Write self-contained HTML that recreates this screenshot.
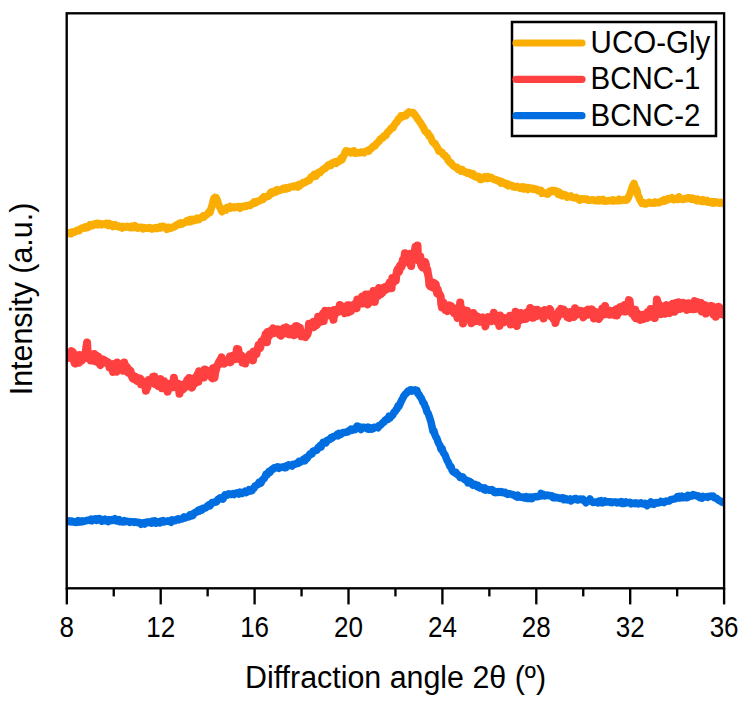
<!DOCTYPE html>
<html><head><meta charset="utf-8"><style>
html,body{margin:0;padding:0;background:#fff;}
svg{display:block;}
text{font-family:"Liberation Sans",sans-serif;fill:#000;}
</style></head><body>
<svg width="745" height="701" viewBox="0 0 745 701">
<defs><clipPath id="c"><rect x="67" y="13" width="657" height="575"/></clipPath></defs>
<g clip-path="url(#c)" fill="none" stroke-linejoin="round" stroke-linecap="round">
<path d="M64.0,234.0 L65.0,234.2 L66.0,233.8 L67.0,233.4 L68.0,233.4 L69.0,232.7 L70.0,233.1 L71.0,233.7 L72.0,232.1 L73.0,231.7 L74.0,232.2 L75.0,231.8 L76.0,231.3 L77.0,230.3 L78.0,230.6 L79.0,230.8 L80.0,229.1 L81.0,229.3 L82.0,228.0 L83.0,228.0 L84.0,227.3 L85.0,228.1 L86.0,227.0 L87.0,227.7 L88.0,227.3 L89.0,226.7 L90.0,224.7 L91.0,225.8 L92.0,225.8 L93.0,225.5 L94.0,224.0 L95.0,224.4 L96.0,223.7 L97.0,223.4 L98.0,224.8 L99.0,223.5 L100.0,224.1 L101.0,224.8 L102.0,223.8 L103.0,224.2 L104.0,224.3 L105.0,224.4 L106.0,223.5 L107.0,224.4 L108.0,225.4 L109.0,223.4 L110.0,225.1 L111.0,224.8 L112.0,224.5 L113.0,226.5 L114.0,225.9 L115.0,224.7 L116.0,225.8 L117.0,226.4 L118.0,226.0 L119.0,226.9 L120.0,226.5 L121.0,227.3 L122.0,228.0 L123.0,226.5 L124.0,227.1 L125.0,226.7 L126.0,227.1 L127.0,226.2 L128.0,226.6 L129.0,226.9 L130.0,227.6 L131.0,227.8 L132.0,226.1 L133.0,226.4 L134.0,227.5 L135.0,225.6 L136.0,226.8 L137.0,227.1 L138.0,228.2 L139.0,227.9 L140.0,227.3 L141.0,227.3 L142.0,227.5 L143.0,228.9 L144.0,227.6 L145.0,227.8 L146.0,228.3 L147.0,228.1 L148.0,228.2 L149.0,227.6 L150.0,228.5 L151.0,228.1 L152.0,229.1 L153.0,228.7 L154.0,228.1 L155.0,228.5 L156.0,227.7 L157.0,228.5 L158.0,227.7 L159.0,228.0 L160.0,226.6 L161.0,227.8 L162.0,226.4 L163.0,226.2 L164.0,227.5 L165.0,227.1 L166.0,227.9 L167.0,229.4 L168.0,227.3 L169.0,227.5 L170.0,228.1 L171.0,228.2 L172.0,227.3 L173.0,226.9 L174.0,227.1 L175.0,226.5 L176.0,225.0 L177.0,225.2 L178.0,224.9 L179.0,223.7 L180.0,224.2 L181.0,223.1 L182.0,224.1 L183.0,223.3 L184.0,222.9 L185.0,222.2 L186.0,222.2 L187.0,220.6 L188.0,220.9 L189.0,221.7 L190.0,219.7 L191.0,221.5 L192.0,219.4 L193.0,220.8 L194.0,219.4 L195.0,220.3 L196.0,219.5 L197.0,218.1 L198.0,219.8 L199.0,219.6 L200.0,218.1 L201.0,217.5 L202.0,217.1 L203.0,216.1 L204.0,217.1 L205.0,215.5 L206.0,215.4 L207.0,214.4 L208.0,213.4 L209.0,211.8 L210.0,212.5 L211.0,208.9 L212.0,205.7 L213.0,201.5 L214.0,198.0 L215.0,197.3 L216.0,197.4 L217.0,199.5 L218.0,202.5 L219.0,205.8 L220.0,207.3 L221.0,209.9 L222.0,211.7 L223.0,209.8 L224.0,209.1 L225.0,209.7 L226.0,210.1 L227.0,207.7 L228.0,208.2 L229.0,207.5 L230.0,206.4 L231.0,208.1 L232.0,207.5 L233.0,207.5 L234.0,206.9 L235.0,207.7 L236.0,207.0 L237.0,207.2 L238.0,206.5 L239.0,206.4 L240.0,208.2 L241.0,206.7 L242.0,207.1 L243.0,206.7 L244.0,206.2 L245.0,205.9 L246.0,206.5 L247.0,205.6 L248.0,205.5 L249.0,205.3 L250.0,205.6 L251.0,204.8 L252.0,204.1 L253.0,203.0 L254.0,201.9 L255.0,203.1 L256.0,202.6 L257.0,201.3 L258.0,201.3 L259.0,201.0 L260.0,200.6 L261.0,200.0 L262.0,198.5 L263.0,199.3 L264.0,196.7 L265.0,197.6 L266.0,196.8 L267.0,196.4 L268.0,196.5 L269.0,195.7 L270.0,193.2 L271.0,192.3 L272.0,193.4 L273.0,191.5 L274.0,191.8 L275.0,192.2 L276.0,190.2 L277.0,189.6 L278.0,191.0 L279.0,190.6 L280.0,190.1 L281.0,190.0 L282.0,189.2 L283.0,188.4 L284.0,189.1 L285.0,188.3 L286.0,187.6 L287.0,188.8 L288.0,188.1 L289.0,188.2 L290.0,187.0 L291.0,187.0 L292.0,186.5 L293.0,186.3 L294.0,186.8 L295.0,185.8 L296.0,186.4 L297.0,186.1 L298.0,187.0 L299.0,184.4 L300.0,185.7 L301.0,184.5 L302.0,184.0 L303.0,182.4 L304.0,182.5 L305.0,182.7 L306.0,181.5 L307.0,181.1 L308.0,180.2 L309.0,180.6 L310.0,179.2 L311.0,177.1 L312.0,177.5 L313.0,176.0 L314.0,174.5 L315.0,175.6 L316.0,176.1 L317.0,174.4 L318.0,172.7 L319.0,172.1 L320.0,172.7 L321.0,171.2 L322.0,170.4 L323.0,169.5 L324.0,168.7 L325.0,168.5 L326.0,167.5 L327.0,166.5 L328.0,165.1 L329.0,165.8 L330.0,164.5 L331.0,165.3 L332.0,163.1 L333.0,163.5 L334.0,163.1 L335.0,161.7 L336.0,163.4 L337.0,162.8 L338.0,161.0 L339.0,161.4 L340.0,160.7 L341.0,158.1 L342.0,159.7 L343.0,157.3 L344.0,155.3 L345.0,152.4 L346.0,150.8 L347.0,151.0 L348.0,152.1 L349.0,151.7 L350.0,151.6 L351.0,152.8 L352.0,151.5 L353.0,151.8 L354.0,150.9 L355.0,153.3 L356.0,153.0 L357.0,153.0 L358.0,152.9 L359.0,152.5 L360.0,152.7 L361.0,152.1 L362.0,152.0 L363.0,152.0 L364.0,152.8 L365.0,152.0 L366.0,151.4 L367.0,150.7 L368.0,150.0 L369.0,150.9 L370.0,149.5 L371.0,148.6 L372.0,147.7 L373.0,146.5 L374.0,146.3 L375.0,146.0 L376.0,144.1 L377.0,143.2 L378.0,142.2 L379.0,141.4 L380.0,139.2 L381.0,139.1 L382.0,137.7 L383.0,137.9 L384.0,135.8 L385.0,135.7 L386.0,135.4 L387.0,133.1 L388.0,131.8 L389.0,131.2 L390.0,130.0 L391.0,128.2 L392.0,128.1 L393.0,128.1 L394.0,125.3 L395.0,124.2 L396.0,122.4 L397.0,122.2 L398.0,119.6 L399.0,118.2 L400.0,118.4 L401.0,116.0 L402.0,116.9 L403.0,116.7 L404.0,115.4 L405.0,115.1 L406.0,115.6 L407.0,113.6 L408.0,112.9 L409.0,111.9 L410.0,112.5 L411.0,113.0 L412.0,112.7 L413.0,112.5 L414.0,113.6 L415.0,114.9 L416.0,116.6 L417.0,117.6 L418.0,119.4 L419.0,120.9 L420.0,122.0 L421.0,123.7 L422.0,125.4 L423.0,126.7 L424.0,128.7 L425.0,131.1 L426.0,131.8 L427.0,132.9 L428.0,133.2 L429.0,136.1 L430.0,136.0 L431.0,137.9 L432.0,140.9 L433.0,142.3 L434.0,143.2 L435.0,143.4 L436.0,145.6 L437.0,146.7 L438.0,148.9 L439.0,151.3 L440.0,151.2 L441.0,151.7 L442.0,152.4 L443.0,154.2 L444.0,155.1 L445.0,155.4 L446.0,157.3 L447.0,157.4 L448.0,160.2 L449.0,161.3 L450.0,162.6 L451.0,162.7 L452.0,164.6 L453.0,165.4 L454.0,166.4 L455.0,167.0 L456.0,166.9 L457.0,167.3 L458.0,169.5 L459.0,169.3 L460.0,170.2 L461.0,171.1 L462.0,169.5 L463.0,170.5 L464.0,171.6 L465.0,172.1 L466.0,171.9 L467.0,173.2 L468.0,173.1 L469.0,172.5 L470.0,173.1 L471.0,174.7 L472.0,174.9 L473.0,173.6 L474.0,176.3 L475.0,176.1 L476.0,177.0 L477.0,176.2 L478.0,176.7 L479.0,176.5 L480.0,179.4 L481.0,177.9 L482.0,179.3 L483.0,177.6 L484.0,178.1 L485.0,176.7 L486.0,177.5 L487.0,178.4 L488.0,176.8 L489.0,178.3 L490.0,178.0 L491.0,177.4 L492.0,178.2 L493.0,178.7 L494.0,179.4 L495.0,179.5 L496.0,179.7 L497.0,180.6 L498.0,180.5 L499.0,180.7 L500.0,182.0 L501.0,183.0 L502.0,181.7 L503.0,183.1 L504.0,182.9 L505.0,183.0 L506.0,184.6 L507.0,184.0 L508.0,185.7 L509.0,184.4 L510.0,185.6 L511.0,185.5 L512.0,185.4 L513.0,186.7 L514.0,186.4 L515.0,187.2 L516.0,186.9 L517.0,186.4 L518.0,187.2 L519.0,187.5 L520.0,188.3 L521.0,187.2 L522.0,188.0 L523.0,187.0 L524.0,188.9 L525.0,187.8 L526.0,187.3 L527.0,188.6 L528.0,189.5 L529.0,187.7 L530.0,188.1 L531.0,188.4 L532.0,188.2 L533.0,189.3 L534.0,188.6 L535.0,188.7 L536.0,189.9 L537.0,189.4 L538.0,190.7 L539.0,190.1 L540.0,190.3 L541.0,190.3 L542.0,193.3 L543.0,192.2 L544.0,193.0 L545.0,193.2 L546.0,193.7 L547.0,193.2 L548.0,194.1 L549.0,191.7 L550.0,190.9 L551.0,190.9 L552.0,190.3 L553.0,191.4 L554.0,191.1 L555.0,190.5 L556.0,190.9 L557.0,192.3 L558.0,194.1 L559.0,191.9 L560.0,194.9 L561.0,194.0 L562.0,195.7 L563.0,194.5 L564.0,195.3 L565.0,194.7 L566.0,195.3 L567.0,197.2 L568.0,197.1 L569.0,196.5 L570.0,196.4 L571.0,195.9 L572.0,197.2 L573.0,197.6 L574.0,197.8 L575.0,197.9 L576.0,197.4 L577.0,198.3 L578.0,198.5 L579.0,199.6 L580.0,200.2 L581.0,199.0 L582.0,198.7 L583.0,199.3 L584.0,199.0 L585.0,199.1 L586.0,199.6 L587.0,199.1 L588.0,200.3 L589.0,199.9 L590.0,200.3 L591.0,200.1 L592.0,199.8 L593.0,199.8 L594.0,200.4 L595.0,200.2 L596.0,200.8 L597.0,200.7 L598.0,199.8 L599.0,200.8 L600.0,199.9 L601.0,200.5 L602.0,200.7 L603.0,199.5 L604.0,201.1 L605.0,201.2 L606.0,201.0 L607.0,200.9 L608.0,200.9 L609.0,200.4 L610.0,200.8 L611.0,200.5 L612.0,200.9 L613.0,200.0 L614.0,200.9 L615.0,200.8 L616.0,200.5 L617.0,200.2 L618.0,200.8 L619.0,199.2 L620.0,200.6 L621.0,200.4 L622.0,200.3 L623.0,200.3 L624.0,199.5 L625.0,199.6 L626.0,200.2 L627.0,199.9 L628.0,198.4 L629.0,195.9 L630.0,193.9 L631.0,190.8 L632.0,187.7 L633.0,185.3 L634.0,183.4 L635.0,186.5 L636.0,188.3 L637.0,190.4 L638.0,195.7 L639.0,197.2 L640.0,200.1 L641.0,201.3 L642.0,203.4 L643.0,202.3 L644.0,202.9 L645.0,204.0 L646.0,204.0 L647.0,203.0 L648.0,203.0 L649.0,202.3 L650.0,202.5 L651.0,203.2 L652.0,203.1 L653.0,202.7 L654.0,203.2 L655.0,201.9 L656.0,202.3 L657.0,202.7 L658.0,202.5 L659.0,202.7 L660.0,202.1 L661.0,201.3 L662.0,201.6 L663.0,200.4 L664.0,199.7 L665.0,201.0 L666.0,200.3 L667.0,200.3 L668.0,198.7 L669.0,199.3 L670.0,199.1 L671.0,198.8 L672.0,197.8 L673.0,199.0 L674.0,199.8 L675.0,199.4 L676.0,198.6 L677.0,198.9 L678.0,199.4 L679.0,196.8 L680.0,198.6 L681.0,199.0 L682.0,199.0 L683.0,199.6 L684.0,199.2 L685.0,198.5 L686.0,198.4 L687.0,198.7 L688.0,197.7 L689.0,197.9 L690.0,198.5 L691.0,199.2 L692.0,198.0 L693.0,198.4 L694.0,198.9 L695.0,200.0 L696.0,199.4 L697.0,200.7 L698.0,199.3 L699.0,200.2 L700.0,200.4 L701.0,201.2 L702.0,201.5 L703.0,199.8 L704.0,200.4 L705.0,201.4 L706.0,200.8 L707.0,200.4 L708.0,202.3 L709.0,202.0 L710.0,202.2 L711.0,201.6 L712.0,202.8 L713.0,202.0 L714.0,203.0 L715.0,201.7 L716.0,201.9 L717.0,202.7 L718.0,202.2 L719.0,203.2 L720.0,203.0 L721.0,202.3 L722.0,203.1 L723.0,202.9 L724.0,203.8 L725.0,202.8 L726.0,202.9 L727.0,204.0" stroke="#FAAD02" stroke-width="7.5"/>
<path d="M64.0,356.8 L64.7,358.6 L65.4,357.0 L66.1,358.0 L66.8,357.3 L67.5,354.1 L68.2,356.2 L68.9,357.8 L69.6,352.2 L70.3,353.6 L71.0,355.8 L71.7,351.1 L72.4,354.7 L73.1,352.3 L73.8,359.1 L74.5,363.2 L75.2,363.5 L75.9,358.8 L76.6,361.6 L77.3,360.2 L78.0,359.6 L78.7,362.8 L79.4,354.9 L80.1,360.7 L80.8,357.5 L81.5,360.9 L82.2,357.6 L82.9,355.6 L83.6,358.3 L84.3,358.4 L85.0,354.0 L85.7,352.2 L86.4,346.7 L87.1,342.5 L87.8,354.4 L88.5,357.4 L89.2,358.4 L89.9,358.0 L90.6,360.4 L91.3,356.4 L92.0,355.7 L92.7,357.0 L93.4,360.6 L94.1,353.9 L94.8,360.9 L95.5,356.4 L96.2,355.4 L96.9,361.8 L97.6,359.0 L98.3,356.7 L99.0,360.0 L99.7,364.1 L100.4,365.0 L101.1,360.5 L101.8,362.5 L102.5,363.0 L103.2,359.4 L103.9,362.3 L104.6,361.7 L105.3,360.8 L106.0,361.3 L106.7,363.1 L107.4,363.4 L108.1,362.3 L108.8,363.0 L109.5,367.4 L110.2,365.5 L110.9,367.7 L111.6,368.9 L112.3,367.5 L113.0,371.9 L113.7,363.9 L114.4,368.1 L115.1,365.2 L115.8,371.4 L116.5,371.6 L117.2,362.5 L117.9,365.5 L118.6,369.6 L119.3,369.6 L120.0,369.2 L120.7,366.9 L121.4,368.3 L122.1,369.2 L122.8,367.6 L123.5,370.8 L124.2,362.5 L124.9,370.0 L125.6,365.6 L126.3,371.1 L127.0,368.4 L127.7,368.0 L128.4,372.6 L129.1,370.5 L129.8,371.8 L130.5,370.6 L131.2,374.9 L131.9,376.6 L132.6,378.2 L133.3,375.5 L134.0,379.0 L134.7,376.7 L135.4,376.8 L136.1,378.9 L136.8,380.8 L137.5,377.8 L138.2,378.6 L138.9,379.5 L139.6,380.7 L140.3,378.6 L141.0,384.2 L141.7,381.0 L142.4,384.0 L143.1,381.4 L143.8,385.3 L144.5,386.1 L145.2,384.5 L145.9,390.7 L146.6,385.3 L147.3,387.8 L148.0,384.6 L148.7,380.1 L149.4,380.6 L150.1,382.6 L150.8,381.6 L151.5,381.7 L152.2,380.9 L152.9,377.1 L153.6,381.3 L154.3,376.5 L155.0,384.0 L155.7,382.0 L156.4,382.8 L157.1,384.7 L157.8,385.7 L158.5,381.1 L159.2,380.0 L159.9,381.6 L160.6,379.0 L161.3,381.7 L162.0,388.3 L162.7,381.3 L163.4,386.0 L164.1,381.2 L164.8,386.1 L165.5,385.0 L166.2,386.2 L166.9,388.5 L167.6,391.7 L168.3,387.7 L169.0,387.6 L169.7,383.7 L170.4,386.8 L171.1,383.6 L171.8,385.3 L172.5,382.5 L173.2,387.2 L173.9,377.8 L174.6,382.5 L175.3,386.1 L176.0,383.8 L176.7,383.5 L177.4,385.7 L178.1,383.5 L178.8,387.6 L179.5,393.8 L180.2,390.5 L180.9,384.8 L181.6,385.6 L182.3,386.4 L183.0,389.6 L183.7,384.5 L184.4,384.2 L185.1,387.5 L185.8,386.6 L186.5,382.5 L187.2,380.1 L187.9,379.3 L188.6,381.7 L189.3,378.0 L190.0,386.1 L190.7,382.0 L191.4,384.5 L192.1,387.7 L192.8,385.4 L193.5,378.7 L194.2,383.3 L194.9,383.3 L195.6,377.6 L196.3,376.5 L197.0,378.4 L197.7,374.2 L198.4,381.8 L199.1,371.3 L199.8,373.5 L200.5,374.6 L201.2,373.6 L201.9,373.5 L202.6,374.2 L203.3,373.5 L204.0,377.5 L204.7,369.6 L205.4,375.1 L206.1,372.7 L206.8,374.4 L207.5,374.2 L208.2,370.9 L208.9,371.5 L209.6,375.2 L210.3,373.9 L211.0,371.1 L211.7,377.9 L212.4,378.3 L213.1,368.2 L213.8,372.5 L214.5,377.7 L215.2,372.5 L215.9,370.1 L216.6,367.6 L217.3,365.3 L218.0,364.7 L218.7,362.4 L219.4,364.3 L220.1,360.0 L220.8,359.5 L221.5,357.4 L222.2,360.9 L222.9,359.3 L223.6,360.9 L224.3,363.6 L225.0,361.5 L225.7,361.4 L226.4,360.9 L227.1,360.1 L227.8,359.7 L228.5,359.3 L229.2,361.8 L229.9,356.5 L230.6,362.4 L231.3,358.6 L232.0,356.1 L232.7,356.5 L233.4,355.7 L234.1,357.6 L234.8,355.1 L235.5,359.1 L236.2,353.5 L236.9,349.0 L237.6,352.4 L238.3,349.2 L239.0,355.4 L239.7,359.3 L240.4,359.3 L241.1,355.1 L241.8,356.3 L242.5,362.6 L243.2,358.4 L243.9,357.1 L244.6,359.8 L245.3,363.5 L246.0,360.5 L246.7,357.6 L247.4,358.2 L248.1,359.0 L248.8,355.9 L249.5,354.8 L250.2,357.5 L250.9,354.1 L251.6,355.7 L252.3,355.3 L253.0,360.4 L253.7,351.4 L254.4,352.6 L255.1,351.8 L255.8,352.6 L256.5,354.1 L257.2,349.9 L257.9,348.1 L258.6,345.0 L259.3,345.8 L260.0,348.2 L260.7,345.6 L261.4,341.6 L262.1,341.9 L262.8,342.0 L263.5,342.2 L264.2,338.3 L264.9,338.7 L265.6,334.2 L266.3,335.5 L267.0,342.2 L267.7,331.9 L268.4,335.8 L269.1,336.0 L269.8,333.1 L270.5,330.8 L271.2,331.8 L271.9,332.3 L272.6,332.6 L273.3,328.4 L274.0,333.3 L274.7,330.7 L275.4,330.6 L276.1,331.8 L276.8,332.1 L277.5,332.7 L278.2,329.4 L278.9,333.6 L279.6,334.8 L280.3,335.0 L281.0,335.6 L281.7,331.6 L282.4,331.4 L283.1,334.0 L283.8,328.3 L284.5,332.4 L285.2,330.4 L285.9,330.9 L286.6,327.4 L287.3,329.7 L288.0,331.9 L288.7,334.3 L289.4,334.4 L290.1,331.4 L290.8,330.9 L291.5,329.0 L292.2,332.0 L292.9,330.2 L293.6,332.4 L294.3,335.2 L295.0,330.5 L295.7,326.3 L296.4,327.8 L297.1,326.1 L297.8,326.7 L298.5,333.6 L299.2,331.5 L299.9,327.6 L300.6,334.0 L301.3,336.2 L302.0,332.8 L302.7,332.7 L303.4,334.3 L304.1,336.6 L304.8,336.6 L305.5,337.0 L306.2,336.0 L306.9,334.8 L307.6,334.0 L308.3,330.8 L309.0,323.8 L309.7,326.1 L310.4,326.5 L311.1,324.3 L311.8,327.3 L312.5,323.7 L313.2,321.8 L313.9,327.3 L314.6,324.7 L315.3,322.9 L316.0,324.2 L316.7,325.0 L317.4,323.6 L318.1,316.8 L318.8,321.6 L319.5,321.2 L320.2,318.5 L320.9,320.3 L321.6,321.6 L322.3,316.1 L323.0,313.6 L323.7,321.0 L324.4,313.7 L325.1,310.8 L325.8,314.0 L326.5,314.4 L327.2,311.4 L327.9,315.2 L328.6,312.0 L329.3,310.9 L330.0,313.9 L330.7,315.6 L331.4,311.9 L332.1,314.2 L332.8,312.9 L333.5,319.8 L334.2,309.9 L334.9,314.9 L335.6,310.7 L336.3,310.1 L337.0,311.9 L337.7,311.5 L338.4,311.6 L339.1,308.3 L339.8,305.0 L340.5,305.1 L341.2,308.0 L341.9,308.4 L342.6,310.7 L343.3,308.6 L344.0,311.1 L344.7,313.1 L345.4,310.3 L346.1,306.6 L346.8,306.7 L347.5,305.3 L348.2,312.4 L348.9,305.3 L349.6,310.6 L350.3,308.6 L351.0,311.1 L351.7,308.7 L352.4,305.5 L353.1,305.0 L353.8,305.6 L354.5,305.6 L355.2,303.5 L355.9,304.4 L356.6,308.3 L357.3,299.4 L358.0,304.3 L358.7,300.5 L359.4,302.6 L360.1,303.6 L360.8,300.5 L361.5,302.5 L362.2,296.4 L362.9,303.5 L363.6,299.2 L364.3,302.5 L365.0,301.5 L365.7,294.4 L366.4,299.3 L367.1,301.9 L367.8,304.5 L368.5,300.4 L369.2,299.6 L369.9,294.4 L370.6,301.2 L371.3,301.5 L372.0,296.2 L372.7,295.0 L373.4,291.0 L374.1,297.3 L374.8,301.9 L375.5,296.5 L376.2,297.8 L376.9,295.1 L377.6,290.4 L378.3,295.6 L379.0,288.1 L379.7,290.9 L380.4,292.3 L381.1,294.0 L381.8,292.8 L382.5,292.6 L383.2,289.3 L383.9,287.6 L384.6,290.6 L385.3,288.2 L386.0,286.7 L386.7,286.8 L387.4,288.9 L388.1,285.2 L388.8,284.9 L389.5,282.6 L390.2,285.7 L390.9,284.7 L391.6,288.2 L392.3,278.1 L393.0,279.2 L393.7,282.3 L394.4,278.2 L395.1,276.5 L395.8,280.5 L396.5,273.8 L397.2,270.4 L397.9,269.0 L398.6,272.2 L399.3,271.0 L400.0,265.5 L400.7,264.9 L401.4,267.1 L402.1,265.2 L402.8,260.0 L403.5,261.4 L404.2,259.5 L404.9,253.3 L405.6,258.3 L406.3,260.9 L407.0,258.4 L407.7,254.3 L408.4,259.2 L409.1,261.9 L409.8,263.8 L410.5,253.8 L411.2,266.0 L411.9,256.1 L412.6,259.9 L413.3,258.7 L414.0,256.2 L414.7,252.1 L415.4,247.0 L416.1,251.8 L416.8,249.2 L417.5,245.5 L418.2,260.4 L418.9,256.3 L419.6,261.3 L420.3,256.4 L421.0,264.7 L421.7,266.3 L422.4,267.3 L423.1,264.3 L423.8,262.3 L424.5,266.1 L425.2,262.0 L425.9,264.5 L426.6,270.4 L427.3,269.4 L428.0,274.3 L428.7,277.2 L429.4,285.2 L430.1,286.0 L430.8,283.1 L431.5,286.9 L432.2,282.3 L432.9,284.1 L433.6,287.9 L434.3,283.0 L435.0,286.1 L435.7,284.0 L436.4,288.3 L437.1,293.2 L437.8,289.4 L438.5,294.3 L439.2,293.7 L439.9,295.2 L440.6,296.1 L441.3,304.1 L442.0,307.5 L442.7,304.0 L443.4,302.4 L444.1,307.5 L444.8,306.3 L445.5,310.0 L446.2,309.2 L446.9,309.7 L447.6,311.0 L448.3,308.5 L449.0,309.0 L449.7,305.4 L450.4,308.6 L451.1,306.0 L451.8,309.9 L452.5,308.3 L453.2,311.5 L453.9,313.0 L454.6,308.5 L455.3,310.4 L456.0,310.4 L456.7,315.1 L457.4,317.9 L458.1,315.5 L458.8,309.5 L459.5,311.3 L460.2,302.5 L460.9,314.0 L461.6,312.1 L462.3,308.8 L463.0,323.5 L463.7,320.4 L464.4,313.3 L465.1,316.1 L465.8,314.8 L466.5,315.3 L467.2,310.8 L467.9,312.5 L468.6,315.1 L469.3,314.6 L470.0,318.2 L470.7,316.3 L471.4,323.2 L472.1,316.1 L472.8,318.6 L473.5,313.0 L474.2,314.7 L474.9,321.3 L475.6,315.7 L476.3,319.9 L477.0,318.8 L477.7,316.6 L478.4,318.6 L479.1,318.3 L479.8,318.5 L480.5,321.8 L481.2,321.5 L481.9,318.3 L482.6,317.5 L483.3,320.7 L484.0,319.7 L484.7,322.4 L485.4,326.4 L486.1,321.4 L486.8,318.8 L487.5,318.6 L488.2,317.0 L488.9,317.2 L489.6,317.2 L490.3,318.8 L491.0,318.4 L491.7,321.1 L492.4,317.7 L493.1,316.8 L493.8,312.8 L494.5,318.8 L495.2,315.2 L495.9,320.0 L496.6,318.8 L497.3,322.0 L498.0,318.1 L498.7,320.8 L499.4,325.9 L500.1,315.4 L500.8,321.3 L501.5,322.3 L502.2,318.9 L502.9,320.5 L503.6,322.4 L504.3,318.0 L505.0,321.5 L505.7,318.3 L506.4,319.0 L507.1,319.3 L507.8,320.1 L508.5,320.5 L509.2,321.0 L509.9,315.7 L510.6,324.4 L511.3,321.7 L512.0,319.6 L512.7,315.8 L513.4,315.6 L514.1,316.5 L514.8,316.6 L515.5,311.7 L516.2,319.2 L516.9,325.9 L517.6,313.0 L518.3,320.2 L519.0,318.1 L519.7,316.5 L520.4,320.0 L521.1,312.9 L521.8,316.2 L522.5,319.3 L523.2,314.6 L523.9,313.9 L524.6,315.3 L525.3,313.7 L526.0,318.9 L526.7,312.5 L527.4,317.4 L528.1,311.9 L528.8,317.1 L529.5,314.9 L530.2,308.1 L530.9,314.7 L531.6,311.7 L532.3,313.0 L533.0,317.8 L533.7,310.2 L534.4,309.9 L535.1,316.2 L535.8,312.6 L536.5,316.3 L537.2,313.0 L537.9,309.8 L538.6,311.8 L539.3,315.2 L540.0,314.3 L540.7,311.6 L541.4,312.0 L542.1,312.0 L542.8,311.2 L543.5,318.4 L544.2,313.5 L544.9,310.1 L545.6,311.6 L546.3,314.5 L547.0,314.0 L547.7,312.2 L548.4,311.1 L549.1,313.3 L549.8,309.0 L550.5,310.4 L551.2,316.4 L551.9,313.4 L552.6,316.1 L553.3,318.8 L554.0,317.9 L554.7,316.8 L555.4,323.0 L556.1,319.4 L556.8,315.7 L557.5,317.6 L558.2,315.8 L558.9,311.4 L559.6,314.0 L560.3,313.5 L561.0,308.9 L561.7,313.8 L562.4,313.5 L563.1,312.9 L563.8,309.6 L564.5,312.9 L565.2,313.8 L565.9,314.6 L566.6,311.8 L567.3,317.0 L568.0,312.5 L568.7,314.5 L569.4,318.0 L570.1,312.1 L570.8,311.9 L571.5,316.1 L572.2,312.4 L572.9,312.8 L573.6,314.4 L574.3,316.8 L575.0,308.2 L575.7,312.0 L576.4,311.6 L577.1,311.5 L577.8,311.8 L578.5,311.5 L579.2,314.2 L579.9,310.7 L580.6,313.4 L581.3,314.1 L582.0,311.1 L582.7,313.3 L583.4,317.4 L584.1,314.0 L584.8,311.6 L585.5,313.3 L586.2,310.9 L586.9,313.6 L587.6,314.6 L588.3,309.6 L589.0,310.7 L589.7,314.4 L590.4,310.3 L591.1,312.3 L591.8,309.3 L592.5,310.0 L593.2,311.1 L593.9,318.4 L594.6,312.0 L595.3,311.9 L596.0,311.9 L596.7,313.1 L597.4,315.4 L598.1,314.3 L598.8,319.0 L599.5,314.1 L600.2,317.1 L600.9,313.9 L601.6,314.3 L602.3,308.5 L603.0,311.4 L603.7,311.0 L604.4,310.6 L605.1,306.0 L605.8,314.2 L606.5,311.3 L607.2,311.5 L607.9,312.3 L608.6,312.7 L609.3,314.7 L610.0,310.7 L610.7,311.5 L611.4,314.5 L612.1,313.9 L612.8,312.4 L613.5,311.6 L614.2,310.7 L614.9,312.4 L615.6,315.3 L616.3,309.2 L617.0,315.6 L617.7,313.5 L618.4,309.8 L619.1,312.7 L619.8,307.3 L620.5,306.9 L621.2,308.4 L621.9,311.1 L622.6,311.0 L623.3,310.0 L624.0,311.2 L624.7,304.9 L625.4,311.6 L626.1,306.7 L626.8,308.8 L627.5,309.5 L628.2,304.0 L628.9,300.1 L629.6,300.5 L630.3,306.6 L631.0,311.5 L631.7,313.3 L632.4,310.3 L633.1,311.8 L633.8,312.4 L634.5,316.2 L635.2,309.7 L635.9,318.2 L636.6,313.6 L637.3,313.1 L638.0,316.6 L638.7,319.0 L639.4,317.8 L640.1,320.0 L640.8,317.0 L641.5,319.4 L642.2,318.9 L642.9,314.9 L643.6,319.1 L644.3,316.2 L645.0,316.4 L645.7,314.2 L646.4,315.7 L647.1,318.0 L647.8,312.1 L648.5,316.7 L649.2,315.6 L649.9,315.5 L650.6,309.1 L651.3,314.7 L652.0,316.5 L652.7,313.2 L653.4,315.8 L654.1,309.8 L654.8,318.1 L655.5,312.8 L656.2,311.6 L656.9,299.4 L657.6,303.0 L658.3,303.3 L659.0,308.8 L659.7,306.7 L660.4,307.1 L661.1,314.2 L661.8,306.4 L662.5,306.8 L663.2,308.1 L663.9,306.3 L664.6,312.2 L665.3,313.7 L666.0,307.5 L666.7,305.0 L667.4,312.7 L668.1,312.7 L668.8,312.1 L669.5,313.0 L670.2,307.6 L670.9,308.7 L671.6,304.8 L672.3,304.0 L673.0,309.5 L673.7,304.7 L674.4,311.7 L675.1,305.4 L675.8,303.0 L676.5,306.7 L677.2,309.6 L677.9,306.4 L678.6,302.2 L679.3,306.5 L680.0,309.0 L680.7,304.3 L681.4,303.6 L682.1,308.4 L682.8,306.1 L683.5,302.9 L684.2,304.8 L684.9,303.9 L685.6,306.9 L686.3,306.8 L687.0,309.9 L687.7,309.1 L688.4,303.2 L689.1,308.0 L689.8,309.0 L690.5,307.5 L691.2,308.8 L691.9,304.9 L692.6,304.2 L693.3,309.3 L694.0,304.4 L694.7,301.1 L695.4,308.9 L696.1,303.9 L696.8,304.5 L697.5,302.1 L698.2,303.0 L698.9,304.1 L699.6,306.9 L700.3,309.4 L701.0,303.0 L701.7,311.4 L702.4,306.9 L703.1,307.6 L703.8,311.7 L704.5,309.4 L705.2,305.2 L705.9,313.6 L706.6,306.3 L707.3,309.1 L708.0,308.8 L708.7,311.8 L709.4,306.8 L710.1,310.6 L710.8,306.0 L711.5,310.8 L712.2,306.1 L712.9,308.0 L713.6,314.7 L714.3,311.4 L715.0,311.7 L715.7,316.8 L716.4,311.4 L717.1,307.9 L717.8,311.4 L718.5,306.7 L719.2,313.3 L719.9,314.1 L720.6,310.1 L721.3,310.5 L722.0,313.1 L722.7,313.1 L723.4,310.7 L724.1,314.9 L724.8,308.2 L725.5,312.5 L726.2,312.6 L726.9,313.0" stroke="#FF4040" stroke-width="8"/>
<path d="M64.0,522.1 L65.0,521.0 L66.0,522.3 L67.0,521.8 L68.0,521.4 L69.0,520.8 L70.0,520.9 L71.0,521.9 L72.0,521.0 L73.0,521.6 L74.0,522.3 L75.0,522.2 L76.0,522.5 L77.0,521.2 L78.0,520.6 L79.0,522.0 L80.0,521.4 L81.0,521.9 L82.0,520.9 L83.0,521.6 L84.0,521.2 L85.0,521.0 L86.0,520.7 L87.0,520.5 L88.0,520.2 L89.0,520.1 L90.0,520.5 L91.0,519.3 L92.0,520.7 L93.0,519.3 L94.0,519.9 L95.0,519.0 L96.0,518.8 L97.0,520.4 L98.0,518.9 L99.0,518.4 L100.0,518.9 L101.0,519.3 L102.0,521.2 L103.0,519.9 L104.0,520.6 L105.0,519.3 L106.0,520.4 L107.0,520.8 L108.0,521.6 L109.0,519.8 L110.0,520.8 L111.0,520.6 L112.0,519.7 L113.0,520.4 L114.0,520.2 L115.0,518.8 L116.0,520.9 L117.0,520.9 L118.0,520.2 L119.0,519.7 L120.0,521.7 L121.0,521.0 L122.0,521.6 L123.0,522.0 L124.0,520.7 L125.0,521.7 L126.0,521.1 L127.0,521.3 L128.0,521.4 L129.0,521.5 L130.0,522.4 L131.0,521.8 L132.0,521.8 L133.0,521.8 L134.0,522.4 L135.0,521.7 L136.0,522.1 L137.0,522.5 L138.0,522.3 L139.0,522.7 L140.0,522.5 L141.0,524.3 L142.0,523.7 L143.0,523.0 L144.0,522.5 L145.0,524.0 L146.0,522.5 L147.0,522.1 L148.0,522.2 L149.0,522.1 L150.0,522.8 L151.0,521.6 L152.0,523.1 L153.0,521.1 L154.0,522.2 L155.0,521.1 L156.0,523.1 L157.0,521.6 L158.0,521.9 L159.0,522.6 L160.0,522.9 L161.0,521.2 L162.0,521.6 L163.0,520.8 L164.0,521.9 L165.0,521.6 L166.0,521.4 L167.0,521.1 L168.0,521.2 L169.0,520.9 L170.0,521.8 L171.0,522.4 L172.0,519.8 L173.0,520.8 L174.0,520.4 L175.0,520.8 L176.0,519.5 L177.0,519.8 L178.0,519.0 L179.0,519.9 L180.0,519.3 L181.0,518.8 L182.0,519.0 L183.0,518.2 L184.0,516.9 L185.0,518.0 L186.0,517.4 L187.0,516.7 L188.0,517.0 L189.0,516.8 L190.0,514.8 L191.0,514.6 L192.0,515.8 L193.0,515.3 L194.0,513.4 L195.0,512.5 L196.0,512.3 L197.0,511.9 L198.0,510.5 L199.0,511.1 L200.0,509.6 L201.0,509.1 L202.0,510.0 L203.0,508.3 L204.0,508.2 L205.0,508.1 L206.0,507.6 L207.0,506.2 L208.0,505.8 L209.0,504.6 L210.0,505.8 L211.0,504.4 L212.0,502.5 L213.0,502.7 L214.0,502.6 L215.0,501.8 L216.0,502.1 L217.0,501.2 L218.0,499.3 L219.0,499.1 L220.0,497.8 L221.0,498.4 L222.0,497.8 L223.0,499.1 L224.0,496.8 L225.0,494.8 L226.0,495.3 L227.0,495.3 L228.0,493.9 L229.0,493.8 L230.0,494.1 L231.0,494.5 L232.0,494.1 L233.0,493.5 L234.0,494.6 L235.0,493.6 L236.0,493.5 L237.0,492.8 L238.0,493.1 L239.0,494.0 L240.0,492.3 L241.0,493.1 L242.0,493.4 L243.0,492.3 L244.0,492.5 L245.0,491.2 L246.0,492.7 L247.0,492.2 L248.0,491.3 L249.0,489.6 L250.0,489.8 L251.0,491.0 L252.0,490.7 L253.0,488.6 L254.0,488.2 L255.0,485.9 L256.0,485.5 L257.0,484.9 L258.0,484.5 L259.0,482.4 L260.0,483.4 L261.0,483.0 L262.0,480.6 L263.0,479.1 L264.0,478.9 L265.0,476.8 L266.0,474.2 L267.0,475.1 L268.0,473.2 L269.0,471.4 L270.0,472.4 L271.0,470.4 L272.0,469.3 L273.0,469.3 L274.0,467.9 L275.0,467.6 L276.0,467.8 L277.0,466.9 L278.0,466.8 L279.0,468.2 L280.0,467.5 L281.0,467.4 L282.0,467.1 L283.0,467.0 L284.0,467.6 L285.0,466.4 L286.0,467.6 L287.0,465.5 L288.0,465.8 L289.0,464.8 L290.0,465.3 L291.0,465.7 L292.0,466.1 L293.0,464.4 L294.0,464.7 L295.0,464.2 L296.0,463.8 L297.0,463.0 L298.0,463.4 L299.0,461.5 L300.0,462.3 L301.0,461.7 L302.0,460.6 L303.0,459.8 L304.0,459.0 L305.0,460.7 L306.0,457.5 L307.0,458.6 L308.0,457.0 L309.0,455.4 L310.0,453.9 L311.0,454.5 L312.0,454.0 L313.0,451.2 L314.0,450.8 L315.0,451.0 L316.0,449.7 L317.0,450.1 L318.0,447.6 L319.0,447.6 L320.0,445.6 L321.0,447.1 L322.0,444.4 L323.0,442.5 L324.0,443.2 L325.0,442.3 L326.0,442.9 L327.0,440.5 L328.0,439.9 L329.0,439.5 L330.0,439.4 L331.0,437.6 L332.0,438.0 L333.0,437.2 L334.0,436.2 L335.0,436.1 L336.0,435.7 L337.0,434.6 L338.0,435.7 L339.0,433.5 L340.0,434.9 L341.0,434.3 L342.0,433.2 L343.0,432.4 L344.0,432.4 L345.0,432.6 L346.0,432.4 L347.0,431.8 L348.0,431.9 L349.0,430.5 L350.0,430.7 L351.0,429.1 L352.0,430.3 L353.0,429.6 L354.0,428.8 L355.0,429.6 L356.0,428.9 L357.0,426.1 L358.0,427.9 L359.0,426.8 L360.0,428.5 L361.0,429.4 L362.0,427.2 L363.0,427.5 L364.0,427.2 L365.0,427.7 L366.0,428.0 L367.0,428.7 L368.0,427.2 L369.0,429.2 L370.0,427.6 L371.0,428.6 L372.0,429.2 L373.0,428.7 L374.0,427.3 L375.0,427.2 L376.0,427.2 L377.0,427.3 L378.0,427.9 L379.0,425.6 L380.0,425.7 L381.0,424.7 L382.0,423.6 L383.0,422.5 L384.0,422.1 L385.0,420.3 L386.0,419.6 L387.0,418.9 L388.0,419.3 L389.0,416.2 L390.0,417.9 L391.0,416.3 L392.0,415.8 L393.0,414.6 L394.0,412.3 L395.0,411.7 L396.0,409.8 L397.0,409.0 L398.0,405.9 L399.0,406.3 L400.0,403.8 L401.0,401.7 L402.0,399.6 L403.0,397.8 L404.0,395.8 L405.0,394.5 L406.0,393.5 L407.0,392.6 L408.0,391.0 L409.0,391.0 L410.0,389.9 L411.0,389.8 L412.0,391.1 L413.0,390.6 L414.0,390.3 L415.0,389.8 L416.0,390.3 L417.0,390.5 L418.0,393.8 L419.0,394.4 L420.0,396.6 L421.0,397.7 L422.0,399.8 L423.0,402.5 L424.0,403.4 L425.0,406.1 L426.0,408.2 L427.0,411.9 L428.0,413.0 L429.0,415.7 L430.0,418.8 L431.0,422.0 L432.0,426.6 L433.0,431.1 L434.0,431.1 L435.0,435.0 L436.0,437.1 L437.0,438.7 L438.0,441.8 L439.0,444.0 L440.0,445.5 L441.0,449.2 L442.0,448.4 L443.0,451.9 L444.0,453.7 L445.0,454.9 L446.0,457.5 L447.0,460.2 L448.0,461.8 L449.0,464.1 L450.0,466.5 L451.0,466.4 L452.0,470.0 L453.0,471.7 L454.0,471.9 L455.0,473.0 L456.0,472.4 L457.0,474.5 L458.0,474.8 L459.0,475.6 L460.0,477.3 L461.0,476.7 L462.0,477.8 L463.0,477.2 L464.0,479.1 L465.0,479.9 L466.0,480.0 L467.0,480.6 L468.0,482.9 L469.0,481.2 L470.0,481.7 L471.0,482.4 L472.0,484.2 L473.0,485.3 L474.0,484.6 L475.0,484.3 L476.0,485.0 L477.0,486.5 L478.0,485.5 L479.0,487.5 L480.0,487.9 L481.0,487.3 L482.0,488.1 L483.0,488.5 L484.0,489.5 L485.0,488.0 L486.0,490.0 L487.0,489.3 L488.0,489.4 L489.0,490.2 L490.0,490.2 L491.0,489.8 L492.0,489.6 L493.0,490.2 L494.0,492.1 L495.0,492.6 L496.0,491.9 L497.0,492.5 L498.0,491.5 L499.0,491.9 L500.0,492.4 L501.0,491.6 L502.0,491.9 L503.0,492.8 L504.0,492.7 L505.0,492.4 L506.0,493.6 L507.0,493.3 L508.0,494.4 L509.0,493.8 L510.0,493.8 L511.0,494.4 L512.0,494.5 L513.0,494.5 L514.0,495.0 L515.0,496.1 L516.0,496.3 L517.0,497.1 L518.0,495.3 L519.0,496.5 L520.0,496.8 L521.0,497.3 L522.0,497.0 L523.0,497.0 L524.0,497.9 L525.0,497.6 L526.0,496.7 L527.0,498.5 L528.0,498.3 L529.0,497.3 L530.0,498.3 L531.0,497.3 L532.0,498.5 L533.0,497.3 L534.0,496.7 L535.0,496.8 L536.0,496.4 L537.0,496.8 L538.0,496.6 L539.0,496.3 L540.0,495.7 L541.0,493.4 L542.0,495.8 L543.0,494.2 L544.0,495.5 L545.0,495.9 L546.0,495.3 L547.0,495.0 L548.0,495.4 L549.0,495.7 L550.0,495.6 L551.0,495.8 L552.0,495.8 L553.0,497.5 L554.0,496.9 L555.0,497.8 L556.0,497.2 L557.0,497.6 L558.0,497.6 L559.0,498.2 L560.0,498.5 L561.0,498.3 L562.0,497.8 L563.0,497.8 L564.0,499.7 L565.0,498.4 L566.0,498.6 L567.0,499.9 L568.0,499.8 L569.0,499.5 L570.0,498.9 L571.0,500.9 L572.0,499.6 L573.0,499.7 L574.0,499.3 L575.0,498.5 L576.0,498.6 L577.0,499.9 L578.0,499.9 L579.0,499.5 L580.0,498.9 L581.0,498.9 L582.0,499.8 L583.0,499.2 L584.0,501.0 L585.0,501.3 L586.0,502.7 L587.0,501.5 L588.0,500.6 L589.0,500.6 L590.0,498.9 L591.0,501.1 L592.0,501.6 L593.0,502.5 L594.0,502.2 L595.0,502.2 L596.0,501.9 L597.0,502.3 L598.0,502.8 L599.0,501.1 L600.0,501.5 L601.0,500.8 L602.0,502.9 L603.0,502.7 L604.0,502.3 L605.0,501.0 L606.0,502.0 L607.0,501.7 L608.0,502.0 L609.0,501.8 L610.0,502.4 L611.0,501.8 L612.0,502.7 L613.0,502.3 L614.0,501.9 L615.0,502.1 L616.0,501.9 L617.0,502.9 L618.0,502.2 L619.0,502.7 L620.0,502.3 L621.0,501.6 L622.0,503.4 L623.0,502.1 L624.0,503.4 L625.0,503.3 L626.0,501.9 L627.0,502.5 L628.0,502.8 L629.0,502.7 L630.0,502.4 L631.0,503.8 L632.0,503.1 L633.0,503.6 L634.0,503.1 L635.0,503.6 L636.0,502.9 L637.0,503.4 L638.0,503.9 L639.0,503.5 L640.0,503.2 L641.0,502.8 L642.0,503.7 L643.0,503.9 L644.0,503.6 L645.0,503.3 L646.0,504.2 L647.0,505.6 L648.0,503.8 L649.0,504.2 L650.0,504.1 L651.0,501.9 L652.0,503.7 L653.0,503.0 L654.0,504.3 L655.0,503.1 L656.0,502.6 L657.0,502.9 L658.0,503.0 L659.0,502.4 L660.0,502.5 L661.0,501.3 L662.0,501.8 L663.0,502.2 L664.0,502.7 L665.0,501.5 L666.0,501.0 L667.0,501.3 L668.0,500.9 L669.0,501.1 L670.0,500.4 L671.0,499.4 L672.0,499.5 L673.0,499.2 L674.0,499.1 L675.0,498.9 L676.0,498.0 L677.0,496.9 L678.0,497.7 L679.0,496.6 L680.0,497.9 L681.0,497.6 L682.0,496.2 L683.0,497.7 L684.0,497.6 L685.0,496.8 L686.0,497.7 L687.0,497.7 L688.0,495.3 L689.0,496.7 L690.0,496.0 L691.0,495.8 L692.0,496.0 L693.0,494.6 L694.0,495.0 L695.0,495.2 L696.0,495.6 L697.0,496.3 L698.0,495.7 L699.0,496.3 L700.0,497.8 L701.0,497.7 L702.0,498.2 L703.0,496.4 L704.0,497.0 L705.0,496.9 L706.0,497.1 L707.0,496.5 L708.0,497.3 L709.0,496.4 L710.0,496.3 L711.0,496.0 L712.0,496.3 L713.0,496.0 L714.0,497.7 L715.0,497.8 L716.0,498.2 L717.0,498.7 L718.0,499.6 L719.0,500.5 L720.0,501.0 L721.0,501.2 L722.0,502.1 L723.0,501.9 L724.0,502.7 L725.0,501.8 L726.0,500.3 L727.0,502.7" stroke="#006DE0" stroke-width="7.5"/>
</g>
<g stroke="#000" stroke-width="2.35" fill="none">
<rect x="66.7" y="13.3" width="657.4" height="575"/>
<line x1="66.80" y1="588" x2="66.80" y2="604.4"/><line x1="113.75" y1="588" x2="113.75" y2="596.4"/><line x1="160.70" y1="588" x2="160.70" y2="604.4"/><line x1="207.65" y1="588" x2="207.65" y2="596.4"/><line x1="254.60" y1="588" x2="254.60" y2="604.4"/><line x1="301.55" y1="588" x2="301.55" y2="596.4"/><line x1="348.50" y1="588" x2="348.50" y2="604.4"/><line x1="395.45" y1="588" x2="395.45" y2="596.4"/><line x1="442.40" y1="588" x2="442.40" y2="604.4"/><line x1="489.35" y1="588" x2="489.35" y2="596.4"/><line x1="536.30" y1="588" x2="536.30" y2="604.4"/><line x1="583.25" y1="588" x2="583.25" y2="596.4"/><line x1="630.20" y1="588" x2="630.20" y2="604.4"/><line x1="677.15" y1="588" x2="677.15" y2="596.4"/><line x1="724.10" y1="588" x2="724.10" y2="604.4"/>
</g>
<g text-anchor="middle" font-size="26"><text transform="translate(66.80,637) scale(1,1.1)">8</text><text transform="translate(160.70,637) scale(1,1.1)">12</text><text transform="translate(254.60,637) scale(1,1.1)">16</text><text transform="translate(348.50,637) scale(1,1.1)">20</text><text transform="translate(442.40,637) scale(1,1.1)">24</text><text transform="translate(536.30,637) scale(1,1.1)">28</text><text transform="translate(630.20,637) scale(1,1.1)">32</text><text transform="translate(724.10,637) scale(1,1.1)">36</text></g>
<text transform="translate(395.5,688) scale(1,1.04)" font-size="30.4" text-anchor="middle">Diffraction angle 2θ (º)</text>
<text transform="translate(31.8,299) rotate(-90) scale(1,1.02)" font-size="30.4" text-anchor="middle">Intensity (a.u.)</text>
<rect x="512" y="22" width="204" height="114" fill="#fff" stroke="#000" stroke-width="2.5"/>
<g stroke-width="7.2" stroke-linecap="round">
<line x1="516" y1="43" x2="582" y2="43" stroke="#FAAD02"/>
<line x1="516" y1="79.3" x2="582" y2="79.3" stroke="#FF4040"/>
<line x1="516" y1="115.7" x2="582" y2="115.7" stroke="#006DE0"/>
</g>
<g font-size="29.5">
<text transform="translate(590.6,52.8) scale(1,1.05)">UCO-Gly</text>
<text transform="translate(590.6,89.2) scale(1,1.05)">BCNC-1</text>
<text transform="translate(590.6,125.6) scale(1,1.05)">BCNC-2</text>
</g>
</svg>
</body></html>
